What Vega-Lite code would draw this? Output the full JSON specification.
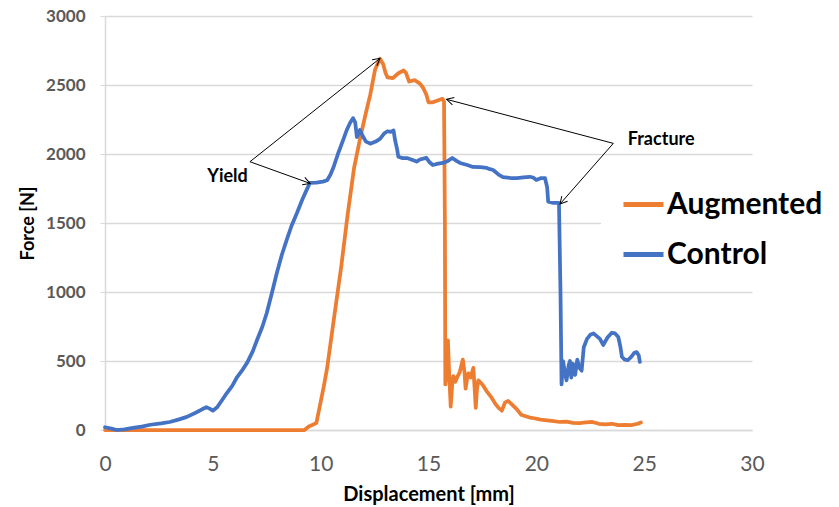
{
  "$schema": "https://vega.github.io/schema/vega-lite/v6.json",
  "width": 647,
  "height": 414,
  "autosize": {"type": "none"},
  "padding": {"left": 105, "top": 16, "right": 87, "bottom": 77},
  "background": "white",
  "config": {
    "font": "Lato",
    "view": {"stroke": null},
    "axis": {"gridColor": "#d9d9d9", "gridWidth": 1.5, "domainColor": "#d9d9d9", "domainWidth": 1.5, "tickColor": "#d9d9d9", "labelColor": "#595959", "titleColor": "black", "titleFontWeight": "bold"}
  },
  "datasets": {
    "curves": [
      {"series": "Augmented", "x": 0, "force": 0},
      {"series": "Augmented", "x": 2, "force": 0},
      {"series": "Augmented", "x": 5, "force": 0},
      {"series": "Augmented", "x": 9.25, "force": 0},
      {"series": "Augmented", "x": 9.45, "force": 25},
      {"series": "Augmented", "x": 9.8, "force": 50},
      {"series": "Augmented", "x": 9.97, "force": 180},
      {"series": "Augmented", "x": 10.15, "force": 320},
      {"series": "Augmented", "x": 10.3, "force": 450},
      {"series": "Augmented", "x": 10.6, "force": 790},
      {"series": "Augmented", "x": 10.95, "force": 1180},
      {"series": "Augmented", "x": 11.25, "force": 1560},
      {"series": "Augmented", "x": 11.55, "force": 1900},
      {"series": "Augmented", "x": 11.85, "force": 2130},
      {"series": "Augmented", "x": 12.1, "force": 2300},
      {"series": "Augmented", "x": 12.3, "force": 2430},
      {"series": "Augmented", "x": 12.52, "force": 2610},
      {"series": "Augmented", "x": 12.75, "force": 2690},
      {"series": "Augmented", "x": 12.9, "force": 2650},
      {"series": "Augmented", "x": 13.0, "force": 2590},
      {"series": "Augmented", "x": 13.1, "force": 2555},
      {"series": "Augmented", "x": 13.35, "force": 2550},
      {"series": "Augmented", "x": 13.6, "force": 2585},
      {"series": "Augmented", "x": 13.85, "force": 2605},
      {"series": "Augmented", "x": 13.95, "force": 2590},
      {"series": "Augmented", "x": 14.1, "force": 2525},
      {"series": "Augmented", "x": 14.37, "force": 2535},
      {"series": "Augmented", "x": 14.6, "force": 2510},
      {"series": "Augmented", "x": 14.75, "force": 2480},
      {"series": "Augmented", "x": 14.9, "force": 2430},
      {"series": "Augmented", "x": 15.0, "force": 2375},
      {"series": "Augmented", "x": 15.2, "force": 2375},
      {"series": "Augmented", "x": 15.45, "force": 2390},
      {"series": "Augmented", "x": 15.65, "force": 2400},
      {"series": "Augmented", "x": 15.72, "force": 2380},
      {"series": "Augmented", "x": 15.76, "force": 1500},
      {"series": "Augmented", "x": 15.78, "force": 330},
      {"series": "Augmented", "x": 15.85, "force": 420},
      {"series": "Augmented", "x": 15.9, "force": 650},
      {"series": "Augmented", "x": 15.96, "force": 400},
      {"series": "Augmented", "x": 16.03, "force": 170},
      {"series": "Augmented", "x": 16.1, "force": 330},
      {"series": "Augmented", "x": 16.15, "force": 390},
      {"series": "Augmented", "x": 16.25, "force": 350},
      {"series": "Augmented", "x": 16.32, "force": 380},
      {"series": "Augmented", "x": 16.45, "force": 420},
      {"series": "Augmented", "x": 16.59, "force": 510},
      {"series": "Augmented", "x": 16.67, "force": 420},
      {"series": "Augmented", "x": 16.72, "force": 300},
      {"series": "Augmented", "x": 16.8, "force": 380},
      {"series": "Augmented", "x": 16.85, "force": 410},
      {"series": "Augmented", "x": 16.95, "force": 380},
      {"series": "Augmented", "x": 17.08, "force": 450},
      {"series": "Augmented", "x": 17.14, "force": 300},
      {"series": "Augmented", "x": 17.19, "force": 160},
      {"series": "Augmented", "x": 17.25, "force": 300},
      {"series": "Augmented", "x": 17.31, "force": 360},
      {"series": "Augmented", "x": 17.5, "force": 330},
      {"series": "Augmented", "x": 17.7, "force": 280},
      {"series": "Augmented", "x": 17.9, "force": 240},
      {"series": "Augmented", "x": 18.1, "force": 190},
      {"series": "Augmented", "x": 18.25, "force": 160},
      {"series": "Augmented", "x": 18.4, "force": 140},
      {"series": "Augmented", "x": 18.55, "force": 200},
      {"series": "Augmented", "x": 18.7, "force": 210},
      {"series": "Augmented", "x": 18.9, "force": 180},
      {"series": "Augmented", "x": 19.1, "force": 150},
      {"series": "Augmented", "x": 19.3, "force": 110},
      {"series": "Augmented", "x": 19.5, "force": 100},
      {"series": "Augmented", "x": 19.7, "force": 90},
      {"series": "Augmented", "x": 19.9, "force": 85},
      {"series": "Augmented", "x": 20.2, "force": 75},
      {"series": "Augmented", "x": 20.5, "force": 70},
      {"series": "Augmented", "x": 20.8, "force": 65},
      {"series": "Augmented", "x": 21.1, "force": 58},
      {"series": "Augmented", "x": 21.4, "force": 60},
      {"series": "Augmented", "x": 21.7, "force": 52},
      {"series": "Augmented", "x": 22.0, "force": 50},
      {"series": "Augmented", "x": 22.3, "force": 55},
      {"series": "Augmented", "x": 22.6, "force": 58},
      {"series": "Augmented", "x": 22.9, "force": 45},
      {"series": "Augmented", "x": 23.2, "force": 40},
      {"series": "Augmented", "x": 23.5, "force": 45},
      {"series": "Augmented", "x": 23.8, "force": 35},
      {"series": "Augmented", "x": 24.1, "force": 38},
      {"series": "Augmented", "x": 24.4, "force": 35},
      {"series": "Augmented", "x": 24.7, "force": 45},
      {"series": "Augmented", "x": 24.85, "force": 55},
      {"series": "Control", "x": 0, "force": 20},
      {"series": "Control", "x": 0.3, "force": 10},
      {"series": "Control", "x": 0.55, "force": 0},
      {"series": "Control", "x": 0.9, "force": 5},
      {"series": "Control", "x": 1.3, "force": 15},
      {"series": "Control", "x": 1.7, "force": 25},
      {"series": "Control", "x": 2.1, "force": 38},
      {"series": "Control", "x": 2.6, "force": 48},
      {"series": "Control", "x": 3.0, "force": 58},
      {"series": "Control", "x": 3.4, "force": 75},
      {"series": "Control", "x": 3.8, "force": 95},
      {"series": "Control", "x": 4.2, "force": 125},
      {"series": "Control", "x": 4.5, "force": 150},
      {"series": "Control", "x": 4.7, "force": 165},
      {"series": "Control", "x": 4.85, "force": 155},
      {"series": "Control", "x": 5.0, "force": 140},
      {"series": "Control", "x": 5.2, "force": 165},
      {"series": "Control", "x": 5.4, "force": 210},
      {"series": "Control", "x": 5.65, "force": 268},
      {"series": "Control", "x": 5.9, "force": 320},
      {"series": "Control", "x": 6.1, "force": 377},
      {"series": "Control", "x": 6.35, "force": 430},
      {"series": "Control", "x": 6.6, "force": 490},
      {"series": "Control", "x": 6.85, "force": 570},
      {"series": "Control", "x": 7.05, "force": 652},
      {"series": "Control", "x": 7.3, "force": 750},
      {"series": "Control", "x": 7.5, "force": 848},
      {"series": "Control", "x": 7.75, "force": 1000},
      {"series": "Control", "x": 7.97, "force": 1140},
      {"series": "Control", "x": 8.2, "force": 1270},
      {"series": "Control", "x": 8.43, "force": 1380},
      {"series": "Control", "x": 8.65, "force": 1480},
      {"series": "Control", "x": 8.9, "force": 1572},
      {"series": "Control", "x": 9.15, "force": 1670},
      {"series": "Control", "x": 9.35, "force": 1740},
      {"series": "Control", "x": 9.5, "force": 1790},
      {"series": "Control", "x": 9.8, "force": 1792},
      {"series": "Control", "x": 10.1, "force": 1800},
      {"series": "Control", "x": 10.3, "force": 1810},
      {"series": "Control", "x": 10.45, "force": 1850},
      {"series": "Control", "x": 10.6, "force": 1906},
      {"series": "Control", "x": 10.8, "force": 2000},
      {"series": "Control", "x": 11.04, "force": 2101},
      {"series": "Control", "x": 11.2, "force": 2170},
      {"series": "Control", "x": 11.36, "force": 2225},
      {"series": "Control", "x": 11.5, "force": 2260},
      {"series": "Control", "x": 11.6, "force": 2230},
      {"series": "Control", "x": 11.68, "force": 2123},
      {"series": "Control", "x": 11.82, "force": 2174},
      {"series": "Control", "x": 11.95, "force": 2130},
      {"series": "Control", "x": 12.1, "force": 2090},
      {"series": "Control", "x": 12.3, "force": 2075},
      {"series": "Control", "x": 12.55, "force": 2090},
      {"series": "Control", "x": 12.75, "force": 2110},
      {"series": "Control", "x": 12.95, "force": 2150},
      {"series": "Control", "x": 13.1, "force": 2165},
      {"series": "Control", "x": 13.25, "force": 2160},
      {"series": "Control", "x": 13.38, "force": 2170},
      {"series": "Control", "x": 13.45, "force": 2100},
      {"series": "Control", "x": 13.55, "force": 2030},
      {"series": "Control", "x": 13.6, "force": 1980},
      {"series": "Control", "x": 13.8, "force": 1970},
      {"series": "Control", "x": 14.0, "force": 1971},
      {"series": "Control", "x": 14.2, "force": 1960},
      {"series": "Control", "x": 14.45, "force": 1945},
      {"series": "Control", "x": 14.6, "force": 1960},
      {"series": "Control", "x": 14.9, "force": 1972},
      {"series": "Control", "x": 15.05, "force": 1940},
      {"series": "Control", "x": 15.2, "force": 1920},
      {"series": "Control", "x": 15.45, "force": 1930},
      {"series": "Control", "x": 15.67, "force": 1935},
      {"series": "Control", "x": 15.9, "force": 1950},
      {"series": "Control", "x": 16.1, "force": 1971},
      {"series": "Control", "x": 16.3, "force": 1950},
      {"series": "Control", "x": 16.46, "force": 1935},
      {"series": "Control", "x": 16.8, "force": 1920},
      {"series": "Control", "x": 17.06, "force": 1906},
      {"series": "Control", "x": 17.4, "force": 1905},
      {"series": "Control", "x": 17.7, "force": 1899},
      {"series": "Control", "x": 17.85, "force": 1890},
      {"series": "Control", "x": 18.0, "force": 1884},
      {"series": "Control", "x": 18.25, "force": 1850},
      {"series": "Control", "x": 18.45, "force": 1833},
      {"series": "Control", "x": 18.8, "force": 1826},
      {"series": "Control", "x": 19.1, "force": 1826},
      {"series": "Control", "x": 19.4, "force": 1830},
      {"series": "Control", "x": 19.7, "force": 1835},
      {"series": "Control", "x": 19.85, "force": 1830},
      {"series": "Control", "x": 20.0, "force": 1812},
      {"series": "Control", "x": 20.2, "force": 1825},
      {"series": "Control", "x": 20.4, "force": 1826},
      {"series": "Control", "x": 20.5, "force": 1760},
      {"series": "Control", "x": 20.55, "force": 1655},
      {"series": "Control", "x": 20.8, "force": 1645},
      {"series": "Control", "x": 21.05, "force": 1645},
      {"series": "Control", "x": 21.12, "force": 1000},
      {"series": "Control", "x": 21.17, "force": 330},
      {"series": "Control", "x": 21.24, "force": 500},
      {"series": "Control", "x": 21.32, "force": 420},
      {"series": "Control", "x": 21.4, "force": 360},
      {"series": "Control", "x": 21.5, "force": 470},
      {"series": "Control", "x": 21.56, "force": 500},
      {"series": "Control", "x": 21.62, "force": 380},
      {"series": "Control", "x": 21.7, "force": 480},
      {"series": "Control", "x": 21.8, "force": 400},
      {"series": "Control", "x": 21.9, "force": 510},
      {"series": "Control", "x": 22.0, "force": 450},
      {"series": "Control", "x": 22.1, "force": 430},
      {"series": "Control", "x": 22.2, "force": 600},
      {"series": "Control", "x": 22.35, "force": 660},
      {"series": "Control", "x": 22.5, "force": 690},
      {"series": "Control", "x": 22.65, "force": 700},
      {"series": "Control", "x": 22.8, "force": 680},
      {"series": "Control", "x": 22.95, "force": 660},
      {"series": "Control", "x": 23.1, "force": 616},
      {"series": "Control", "x": 23.3, "force": 670},
      {"series": "Control", "x": 23.5, "force": 705},
      {"series": "Control", "x": 23.65, "force": 700},
      {"series": "Control", "x": 23.8, "force": 674},
      {"series": "Control", "x": 23.9, "force": 600},
      {"series": "Control", "x": 23.97, "force": 529},
      {"series": "Control", "x": 24.1, "force": 510},
      {"series": "Control", "x": 24.25, "force": 507},
      {"series": "Control", "x": 24.4, "force": 530},
      {"series": "Control", "x": 24.55, "force": 560},
      {"series": "Control", "x": 24.65, "force": 565},
      {"series": "Control", "x": 24.75, "force": 540},
      {"series": "Control", "x": 24.8, "force": 493}
    ],
    "arrows": [
      {"x": 6.72, "y": 1944, "x2": 12.75, "y2": 2693},
      {"x": 6.72, "y": 1944, "x2": 9.51, "y2": 1787},
      {"x": 23.57, "y": 2077, "x2": 15.84, "y2": 2396},
      {"x": 23.57, "y": 2077, "x2": 21.1, "y2": 1638}
    ],
    "labels": [
      {"x": 5.68, "y": 1830, "text": "Yield"},
      {"x": 25.79, "y": 2101, "text": "Fracture"}
    ]
  },
  "layer": [
    {
      "data": {"name": "curves"},
      "mark": {"type": "line", "strokeWidth": 3.75, "strokeJoin": "round", "strokeCap": "round"},
      "encoding": {
        "x": {"field": "x", "type": "quantitative", "title": "Displacement [mm]", "scale": {"domain": [0, 30], "nice": false},
          "axis": {"values": [0, 5, 10, 15, 20, 25, 30], "format": "d", "labelFlush": false, "grid": false, "ticks": false, "tickSize": 0, "labelFontSize": 21, "labelPadding": 23, "titleFontSize": 20, "titlePadding": 10}},
        "y": {"field": "force", "type": "quantitative", "title": "Force [N]", "scale": {"domain": [0, 3000], "nice": false},
          "axis": {"values": [0, 500, 1000, 1500, 2000, 2500, 3000], "format": "d", "labelFlush": false, "grid": true, "tickSize": 5, "labelFontSize": 17, "labelFontWeight": "bold", "labelPadding": 15, "titleFontSize": 18, "titlePadding": 8}},
        "color": {"field": "series", "type": "nominal",
          "scale": {"domain": ["Augmented", "Control"], "range": ["#ED7D31", "#4472C4"]},
          "legend": {"title": null, "orient": "none", "legendX": 496, "legendY": 146, "padding": 20, "fillColor": "white", "symbolType": "stroke", "symbolSize": 1600, "symbolStrokeWidth": 5, "labelFontSize": 30, "labelFontWeight": "bold", "labelColor": "black", "labelLimit": 400, "labelOffset": 1, "rowPadding": 12}}
      }
    },
    {
      "data": {"name": "arrows"},
      "mark": {"type": "rule", "color": "black", "strokeWidth": 1},
      "encoding": {
        "x": {"field": "x", "type": "quantitative", "title": "Displacement [mm]"},
        "y": {"field": "y", "type": "quantitative", "title": "Force [N]"},
        "x2": {"field": "x2"},
        "y2": {"field": "y2"}
      }
    },
    {
      "data": {"name": "arrows"},
      "transform": [{"calculate": "atan2(-(datum.y2 - datum.y) * 0.138, (datum.x2 - datum.x) * 21.567) * 180 / PI", "as": "angle"}],
      "mark": {"type": "point", "shape": "M-1,-0.55L0,0L-1,0.55", "size": 196, "filled": false, "stroke": "black", "strokeWidth": 1, "opacity": 1},
      "encoding": {
        "x": {"field": "x2", "type": "quantitative", "title": "Displacement [mm]"},
        "y": {"field": "y2", "type": "quantitative", "title": "Force [N]"},
        "angle": {"field": "angle", "type": "quantitative", "scale": null}
      }
    },
    {
      "data": {"name": "labels"},
      "mark": {"type": "text", "fontWeight": "bold", "fontSize": 18, "color": "black", "align": "center", "baseline": "middle"},
      "encoding": {
        "x": {"field": "x", "type": "quantitative", "title": "Displacement [mm]"},
        "y": {"field": "y", "type": "quantitative", "title": "Force [N]"},
        "text": {"field": "text"}
      }
    }
  ]
}
